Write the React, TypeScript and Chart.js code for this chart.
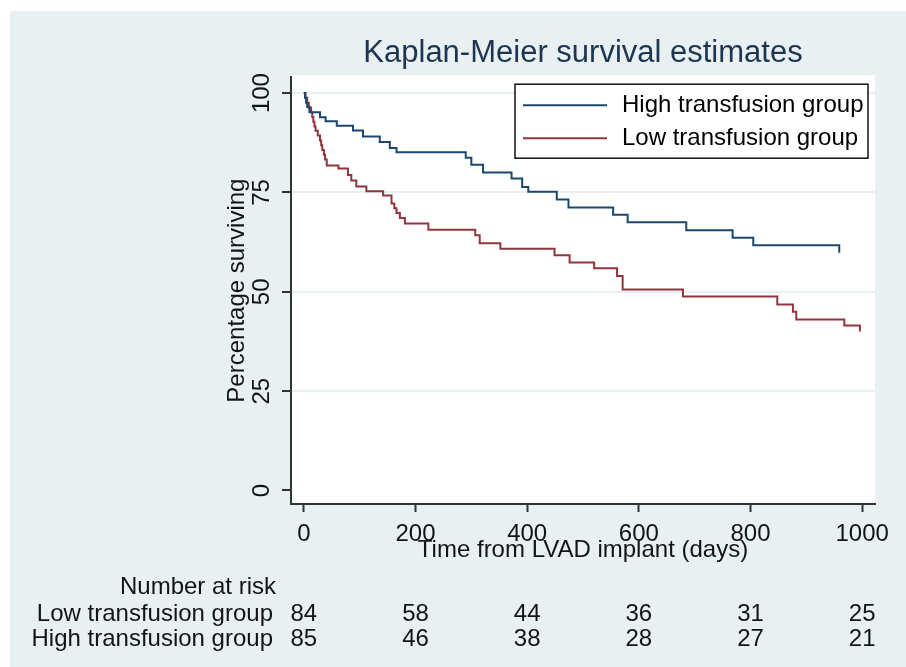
import React, { useEffect, useRef } from 'react';
import { Chart, registerables } from 'chart.js';

Chart.register(...registerables);

const titleText = 'Kaplan-Meier survival estimates';
const xTitle = 'Time from LVAD implant (days)';
const yTitle = 'Percentage surviving';
const xTicks = [0, 200, 400, 600, 800, 1000];
const yTicks = [0, 25, 50, 75, 100];

const highLabel = 'High transfusion group';
const lowLabel = 'Low transfusion group';

const highDays = [0, 2, 4, 6, 10, 29, 39, 59, 88, 106, 136, 154, 166, 290, 300, 321, 372, 391, 402, 453, 474, 554, 580, 685, 768, 805, 959];
const highSurv = [100, 98.8, 97.6, 96.5, 95.2, 93.9, 92.9, 91.8, 90.6, 89.1, 87.7, 86.2, 85.1, 83.7, 82.0, 80.0, 78.5, 76.4, 75.2, 73.2, 71.2, 69.4, 67.5, 65.5, 63.6, 61.7, 59.8];

const lowDays = [0, 3, 6, 9, 13, 15, 17, 19, 21, 25, 29, 31, 33, 36, 38, 41, 62, 79, 85, 94, 112, 142, 157, 162, 166, 172, 181, 223, 307, 315, 352, 449, 476, 520, 561, 571, 679, 848, 876, 882, 968, 996];
const lowSurv = [100, 98.8, 97.6, 96.4, 95.2, 94.0, 92.8, 91.6, 90.5, 89.3, 88.1, 86.9, 85.7, 84.5, 83.3, 81.8, 81.0, 79.4, 78.0, 76.5, 75.3, 74.2, 72.2, 71.0, 69.8, 68.6, 67.2, 65.6, 64.2, 62.2, 60.8, 59.2, 57.4, 55.9, 54.0, 50.6, 48.8, 46.8, 45.0, 43.0, 41.5, 40.0];

const atRiskTitle = 'Number at risk';
const atRiskTimes = [0, 200, 400, 600, 800, 1000];
const atRiskLow = [84, 58, 44, 36, 31, 25];
const atRiskHigh = [85, 46, 38, 28, 27, 21];

const FONT = '"Liberation Sans", Arial, sans-serif';
const BLUE = '#1a476f';
const RED = '#90353b';
const BG = '#e8f0f2';
const TEXT = '#141414';
const FS = 24;

const plotBg = {
  id: 'plotBg',
  beforeDraw(chart: any) {
    const { ctx, chartArea: a } = chart;
    ctx.save();
    ctx.fillStyle = '#ffffff';
    ctx.fillRect(a.left, a.top - 2, a.right - a.left, a.bottom - a.top + 2);
    ctx.restore();
  },
};

const legendBox = {
  id: 'legendBox',
  afterDatasetsDraw(chart: any) {
    const { ctx, chartArea: a } = chart;
    const w = 353;
    const h = 74;
    const x = a.right - 360;
    const y = a.top + 7;
    ctx.save();
    ctx.fillStyle = '#ffffff';
    ctx.fillRect(x, y, w, h);
    ctx.strokeStyle = '#111';
    ctx.lineWidth = 1.5;
    ctx.strokeRect(x, y, w, h);
    ctx.font = `${FS}px ${FONT}`;
    ctx.textBaseline = 'middle';
    ctx.textAlign = 'left';
    chart.data.datasets.forEach((ds: any, i: number) => {
      const ry = y + 21 + i * 33;
      ctx.strokeStyle = ds.borderColor;
      ctx.lineWidth = 2;
      ctx.beginPath();
      ctx.moveTo(x + 8, ry);
      ctx.lineTo(x + 92, ry);
      ctx.stroke();
      ctx.fillStyle = '#000';
      ctx.fillText(ds.label, x + 107, ry);
    });
    ctx.restore();
  },
};

const riskTable = {
  id: 'riskTable',
  afterDraw(chart: any) {
    const { ctx, chartArea: a } = chart;
    const xs = chart.scales.x;
    ctx.save();
    ctx.font = `${FS}px ${FONT}`;
    ctx.fillStyle = TEXT;
    ctx.textBaseline = 'middle';
    ctx.textAlign = 'right';
    const lx = a.left - 18;
    ctx.fillText(atRiskTitle, lx + 3, a.bottom + 83);
    ctx.fillText(lowLabel, lx, a.bottom + 110);
    ctx.fillText(highLabel, lx, a.bottom + 135);
    ctx.textAlign = 'center';
    atRiskTimes.forEach((t, i) => {
      const px = xs.getPixelForValue(t);
      ctx.fillText(String(atRiskLow[i]), px, a.bottom + 110);
      ctx.fillText(String(atRiskHigh[i]), px, a.bottom + 135);
    });
    ctx.restore();
  },
};

export default function App() {
  const ref = useRef<HTMLCanvasElement>(null);
  useEffect(() => {
    if (!ref.current) return;
    const chart = new Chart(ref.current, {
      type: 'line',
      data: {
        datasets: [
          {
            label: highLabel,
            data: highDays.map((d, i) => ({ x: d, y: highSurv[i] })),
            borderColor: BLUE,
            backgroundColor: BLUE,
            borderWidth: 2,
            pointRadius: 0,
            stepped: true,
            fill: false,
          },
          {
            label: lowLabel,
            data: lowDays.map((d, i) => ({ x: d, y: lowSurv[i] })),
            borderColor: RED,
            backgroundColor: RED,
            borderWidth: 2,
            pointRadius: 0,
            stepped: true,
            fill: false,
          },
        ],
      },
      options: {
        responsive: false,
        animation: false,
        devicePixelRatio: 1,
        layout: { padding: { left: 222, top: 20, right: 31, bottom: 102 } },
        plugins: {
          legend: { display: false },
          tooltip: { enabled: false },
          title: {
            display: true,
            text: titleText,
            fullSize: false,
            color: '#1e3552',
            font: { family: FONT, size: 31, weight: 'normal' },
            padding: { top: 15, bottom: 5 },
          },
        },
        scales: {
          x: {
            type: 'linear',
            min: -23,
            max: 1023,
            afterBuildTicks: (s: any) => { s.ticks = xTicks.map((v) => ({ value: v })); },
            afterFit: (s: any) => { s.height = 61; },
            grid: { drawOnChartArea: false, drawTicks: true, tickLength: 8, tickColor: '#333', tickWidth: 2 },
            border: { display: true, color: '#333', width: 2 },
            ticks: {
              color: TEXT,
              font: { family: FONT, size: FS },
              padding: 8,
              maxRotation: 0,
              minRotation: 0,
              callback: (v: any) => String(v),
            },
            title: { display: true, text: xTitle, color: TEXT, font: { family: FONT, size: FS }, padding: { top: 0, bottom: 0 } },
          },
          y: {
            type: 'linear',
            min: -3.4,
            max: 104,
            afterBuildTicks: (s: any) => { s.ticks = yTicks.map((v) => ({ value: v })); },
            afterFit: (s: any) => { s.width = 69; },
            grid: {
              color: (c: any) => (c.tick && c.tick.value === 0 ? 'rgba(0,0,0,0)' : BG),
              lineWidth: 2,
              drawTicks: true,
              tickLength: 9,
              tickColor: '#333',
              tickWidth: 2,
            },
            border: { display: true, color: '#333', width: 2 },
            ticks: {
              color: TEXT,
              font: { family: FONT, size: FS },
              padding: 0,
              minRotation: 90,
              maxRotation: 90,
              crossAlign: 'center',
              callback: (v: any) => String(v),
            },
            title: { display: true, text: yTitle, color: TEXT, font: { family: FONT, size: FS }, padding: { top: 1, bottom: 0 } },
          },
        },
      },
      plugins: [plotBg, legendBox, riskTable],
    } as any);
    return () => chart.destroy();
  }, []);

  return (
    <div style={{ position: 'fixed', left: 0, top: 0, width: 906, height: 667, background: '#ffffff' }}>
      <div style={{ position: 'absolute', left: 10, top: 11, right: 0, bottom: 0, background: BG }} />
      <canvas ref={ref} width={906} height={667} style={{ position: 'absolute', left: 0, top: 0, width: 906, height: 667 }} />
    </div>
  );
}
